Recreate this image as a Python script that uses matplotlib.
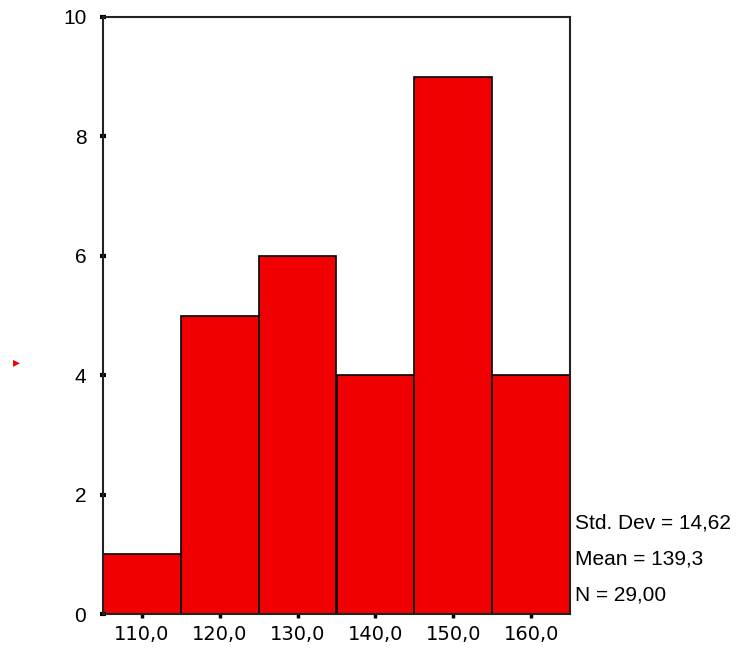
import matplotlib.pyplot as plt

plt.rcParams['font.family'] = ['Liberation Sans', 'DejaVu Sans']

bin_centers = [110, 120, 130, 140, 150, 160]
counts = [1, 5, 6, 4, 9, 4]
tick_labels = ['110,0', '120,0', '130,0', '140,0', '150,0', '160,0']
stats = ['Std. Dev = 14,62', 'Mean = 139,3', 'N = 29,00']

fig = plt.figure(figsize=(7.42, 6.52), dpi=100)
ax = fig.add_axes([103 / 742, 1 - 614 / 652, (570 - 103) / 742, (614 - 17) / 652])

ax.bar(bin_centers, counts, width=10, color='#f00000', edgecolor='black', linewidth=1.2)

ax.set_xlim(105, 165)
ax.set_ylim(0, 10)
ax.set_xticks(bin_centers)
ax.set_xticklabels(tick_labels, family=['DejaVu Sans'], fontsize=14)
ax.set_yticks([0, 2, 4, 6, 8, 10])

for s in ax.spines.values():
    s.set_linewidth(1.5)
    s.set_color('#222222')

ax.tick_params(axis='x', direction='out', length=3, width=2.5, pad=5)
ax.tick_params(axis='y', direction='inout', length=4, width=3, pad=10, labelsize=15)

# summary statistics to the right of the plot
for i, txt in enumerate(stats):
    fig.text(575 / 742, 1 - (523 + i * 36) / 652, txt, fontsize=15, va='center', ha='left')

# small red marker on the left edge
fig.text(13 / 742, 1 - 362 / 652, '\u25b8', color='#f00000', fontsize=10, va='center', ha='left')

fig.savefig('out.png', dpi=100)
